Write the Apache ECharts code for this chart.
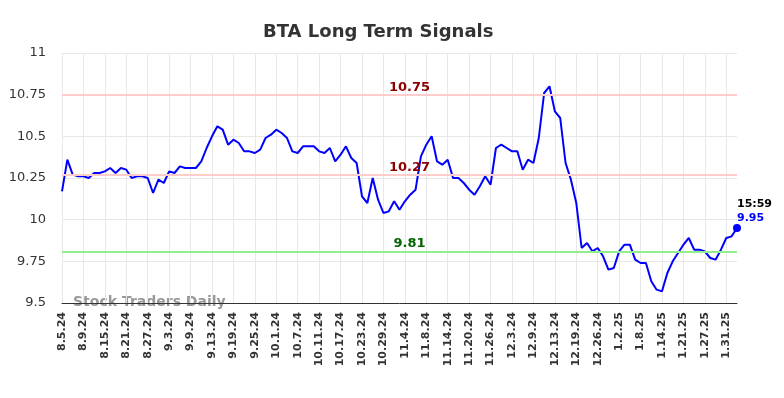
<!DOCTYPE html>
<html>
<head>
<meta charset="utf-8">
<script src="https://cdn.jsdelivr.net/npm/echarts@6/dist/echarts.min.js"></script>
<style>
  html, body { margin: 0; padding: 0; background: #fff; }
  #chart { width: 784px; height: 398px; }
</style>
</head>
<body>
<div id="chart"></div>
<script>
// trading days, a label every 4th one
var dates = [
  '8.5.24','8.6.24','8.7.24','8.8.24','8.9.24','8.12.24','8.13.24','8.14.24','8.15.24','8.16.24',
  '8.19.24','8.20.24','8.21.24','8.22.24','8.23.24','8.26.24','8.27.24','8.28.24','8.29.24','8.30.24',
  '9.3.24','9.4.24','9.5.24','9.6.24','9.9.24','9.10.24','9.11.24','9.12.24','9.13.24','9.16.24',
  '9.17.24','9.18.24','9.19.24','9.20.24','9.23.24','9.24.24','9.25.24','9.26.24','9.27.24','9.30.24',
  '10.1.24','10.2.24','10.3.24','10.4.24','10.7.24','10.8.24','10.9.24','10.10.24','10.11.24','10.14.24',
  '10.15.24','10.16.24','10.17.24','10.18.24','10.21.24','10.22.24','10.23.24','10.24.24','10.25.24','10.28.24',
  '10.29.24','10.30.24','10.31.24','11.1.24','11.4.24','11.5.24','11.6.24','11.7.24','11.8.24','11.11.24',
  '11.12.24','11.13.24','11.14.24','11.15.24','11.18.24','11.19.24','11.20.24','11.21.24','11.22.24','11.25.24',
  '11.26.24','11.27.24','11.29.24','12.2.24','12.3.24','12.4.24','12.5.24','12.6.24','12.9.24','12.10.24',
  '12.11.24','12.12.24','12.13.24','12.16.24','12.17.24','12.18.24','12.19.24','12.20.24','12.23.24','12.24.24',
  '12.26.24','12.27.24','12.30.24','12.31.24','1.2.25','1.3.25','1.6.25','1.7.25','1.8.25','1.9.25',
  '1.10.25','1.13.25','1.14.25','1.15.25','1.16.25','1.17.25','1.21.25','1.22.25','1.23.25','1.24.25',
  '1.27.25','1.28.25','1.29.25','1.30.25','1.31.25','2.3.25','2.4.25'
];

var prices = [
  10.17,10.36,10.27,10.26,10.26,10.25,10.28,10.28,10.29,10.31,
  10.28,10.31,10.30,10.25,10.26,10.26,10.25,10.16,10.24,10.22,
  10.29,10.28,10.32,10.31,10.31,10.31,10.35,10.43,10.50,10.56,
  10.54,10.45,10.48,10.46,10.41,10.41,10.40,10.42,10.49,10.51,
  10.54,10.52,10.49,10.41,10.40,10.44,10.44,10.44,10.41,10.40,
  10.43,10.35,10.39,10.44,10.37,10.34,10.14,10.10,10.25,10.12,
  10.04,10.05,10.11,10.06,10.11,10.15,10.18,10.38,10.45,10.50,
  10.35,10.33,10.36,10.25,10.25,10.22,10.18,10.15,10.20,10.26,
  10.21,10.43,10.45,10.43,10.41,10.41,10.30,10.36,10.34,10.49,
  10.76,10.80,10.65,10.61,10.34,10.24,10.10,9.83,9.86,9.81,
  9.83,9.78,9.70,9.71,9.81,9.85,9.85,9.76,9.74,9.74,
  9.63,9.58,9.57,9.68,9.75,9.80,9.85,9.89,9.82,9.82,
  9.81,9.77,9.76,9.82,9.89,9.90,9.95
];

var upperLevels = [10.75, 10.27];
var lowerLevels = [9.81];
var lastTime = '15:59';

var chart = echarts.init(document.getElementById('chart'));

var lastIdx = prices.length - 1;
var lastVal = prices[lastIdx];

var lines = [];
upperLevels.forEach(function (v) {
  lines.push({
    yAxis: v,
    lineStyle: { color: '#ffcccc', width: 2, type: 'solid' },
    label: { color: '#8b0000' }
  });
});
lowerLevels.forEach(function (v) {
  lines.push({
    yAxis: v,
    lineStyle: { color: '#90ee90', width: 2, type: 'solid' },
    label: { color: '#006400' }
  });
});

var option = {
  animation: false,
  title: {
    text: 'BTA Long Term Signals',
    left: 258,
    top: 18,
    textStyle: { fontSize: 18, fontWeight: 'bold', color: '#333', fontFamily: 'DejaVu Sans' }
  },
  grid: { left: 62, right: 47, top: 53, bottom: 95 },
  xAxis: {
    type: 'category',
    data: dates,
    boundaryGap: false,
    axisLine: { lineStyle: { color: '#333', width: 1 } },
    axisTick: { show: false },
    axisLabel: {
      interval: 3,
      rotate: 90,
      margin: 9,
      color: '#333',
      fontSize: 11,
      fontWeight: 'bold',
      fontFamily: 'DejaVu Sans'
    },
    splitLine: { show: true, interval: 3, lineStyle: { color: '#e8e8e8', width: 1 } }
  },
  yAxis: {
    type: 'value',
    min: 9.5,
    max: 11,
    interval: 0.25,
    axisLine: { show: false },
    axisTick: { show: false },
    axisLabel: {
      margin: 16,
      color: '#333',
      fontSize: 13,
      fontFamily: 'DejaVu Sans',
      formatter: function (v) { return String(parseFloat(v.toFixed(2))); }
    },
    splitLine: { lineStyle: { color: '#e8e8e8', width: 1 } }
  },
  graphic: [{
    type: 'text',
    left: 73,
    top: 295,
    style: {
      text: 'Stock Traders Daily',
      fill: '#999',
      font: 'bold 14px "DejaVu Sans"'
    }
  }],
  series: [{
    type: 'line',
    data: prices,
    showSymbol: false,
    lineStyle: { color: '#0000ff', width: 2 },
    itemStyle: { color: '#0000ff' },
    markLine: {
      silent: true,
      symbol: 'none',
      label: {
        show: true,
        position: 'middle',
        fontWeight: 'bold',
        fontSize: 13,
        fontFamily: 'DejaVu Sans',
        distance: 3,
        offset: [10, 2],
        formatter: function (p) { return p.value.toFixed(2); }
      },
      data: lines
    }
  }, {
    type: 'scatter',
    data: [[lastIdx, lastVal]],
    symbol: 'circle',
    symbolSize: 8,
    itemStyle: { color: '#0000ff', opacity: 1 },
    label: {
      show: true,
      position: 'top',
      offset: [0, 6],
      align: 'left',
      lineHeight: 14,
      formatter: function (p) { return lastTime + '\n{v|' + p.value[1].toFixed(2) + '}'; },
      color: '#000',
      fontWeight: 'bold',
      fontSize: 11,
      fontFamily: 'DejaVu Sans',
      rich: { v: { color: '#0000ff', fontWeight: 'bold', fontSize: 11, fontFamily: 'DejaVu Sans' } }
    }
  }]
};

chart.setOption(option);
</script>
</body>
</html>
